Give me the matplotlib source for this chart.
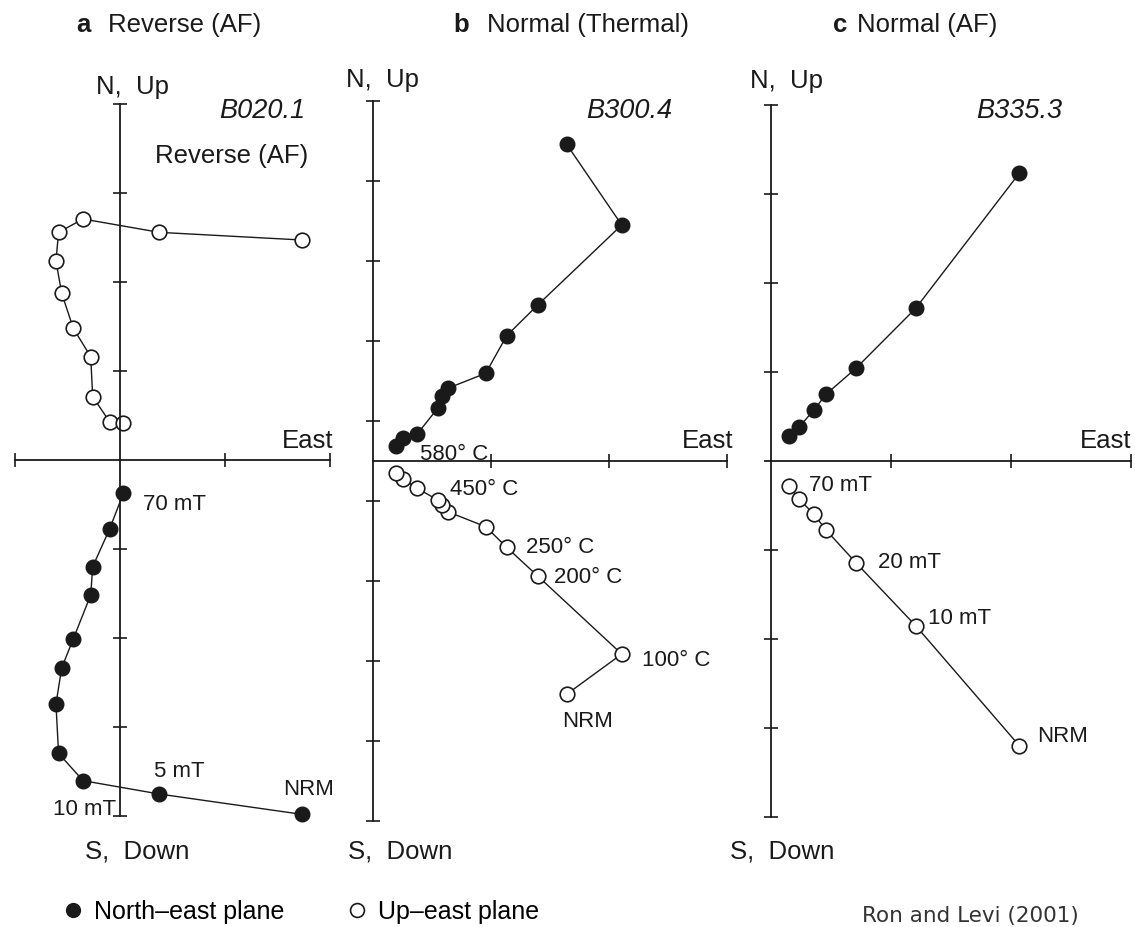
import matplotlib
matplotlib.use("Agg")
import matplotlib.pyplot as plt

plt.rcParams['font.family'] = ['Liberation Sans', 'DejaVu Sans']

W, H = 1135, 927

# ---------------- data (tick units of each panel) ----------------
# a: B020.1, reverse, AF demagnetisation (NRM -> 70 mT)
a_east  = [1.730, 0.374, -0.352, -0.585, -0.610, -0.555, -0.445, -0.279, -0.260, -0.099, 0.032]
a_north = [-3.981, -3.753, -3.603, -3.296, -2.742, -2.334, -2.011, -1.517, -1.199, -0.775, -0.374]
a_up    = [2.472, 2.558, 2.708, 2.558, 2.236, 1.872, 1.480, 1.161, 0.711, 0.430, 0.412]
a_labels = {'70 mT': 10, '5 mT': 1, 'NRM': 0, '10 mT': 2}

# b: B300.4, normal, thermal demagnetisation (NRM -> 580 C)
b_east  = [1.641, 2.108, 1.396, 1.133, 0.955, 0.633, 0.587, 0.548, 0.375, 0.257, 0.195]
b_north = [3.959, 2.950, 1.950, 1.566, 1.096, 0.909, 0.813, 0.659, 0.338, 0.291, 0.188]
b_up    = [-2.916, -2.413, -1.438, -1.079, -0.821, -0.634, -0.550, -0.488, -0.341, -0.229, -0.154]
b_labels_north = {'580° C': 10}
b_labels_up = {'450° C': 8, '250° C': 3, '200° C': 2, '100° C': 1, 'NRM': 0}

# c: B335.3, normal, AF demagnetisation (NRM -> 70 mT)
c_east  = [2.069, 1.206, 0.708, 0.458, 0.358, 0.236, 0.153]
c_north = [3.233, 1.716, 1.042, 0.749, 0.573, 0.385, 0.281]
c_up    = [-3.199, -1.851, -1.143, -0.775, -0.599, -0.430, -0.281]
c_labels = {'70 mT': 6, '20 mT': 2, '10 mT': 1, 'NRM': 0}

panel_letters = ['a', 'b', 'c']
panel_titles = ['Reverse (AF)', 'Normal (Thermal)', 'Normal (AF)']
sample_names = ['B020.1', 'B300.4', 'B335.3']

INK = '#1a1a1a'
LBL = 16
BIG = 18.5

fig = plt.figure(figsize=(W / 100, H / 100), dpi=100)
fig.patch.set_facecolor('white')


def px(x, y):
    return x / W, 1 - y / H


def make_axes(box, origin, unit):
    l, t, r, b = box
    ax = fig.add_axes([l / W, 1 - b / H, (r - l) / W, (b - t) / H])
    ox, oy = origin
    ux, uy = unit
    ax.set_xlim((l - ox) / ux, (r - ox) / ux)
    ax.set_ylim((oy - b) / uy, (oy - t) / uy)
    ax.patch.set_alpha(0)
    for s in ['top', 'right']:
        ax.spines[s].set_visible(False)
    for s in ['left', 'bottom']:
        ax.spines[s].set_position(('data', 0))
        ax.spines[s].set_linewidth(1.3)
        ax.spines[s].set_color(INK)
    ax.tick_params(direction='inout', length=10, width=1.2, color=INK,
                   labelleft=False, labelbottom=False)
    return ax


def draw_series(ax, east, north, up):
    ln_n, = ax.plot(east, north, '-o', color=INK, lw=1.0, ms=10.5,
                    mfc=INK, mec=INK, clip_on=False)
    ln_u, = ax.plot(east, up, '-o', color=INK, lw=1.0, ms=10.5,
                    mfc='white', mec=INK, mew=1.2, clip_on=False)
    return ln_n, ln_u


def label(ax, text, x, y, off, ha='left'):
    ax.annotate(text, (x, y), xytext=off, textcoords='offset pixels',
                ha=ha, va='baseline', fontsize=LBL, color=INK)


# ---------------- panel a ----------------
ax = make_axes((5, 95, 345, 830), (120, 460), (105, 89))
ax.spines['left'].set_bounds(-4, 4)
ax.spines['bottom'].set_bounds(-1, 2)
ax.set_yticks([-4, -3, -2, -1, 1, 2, 3, 4])
ax.set_xticks([-1, 1, 2])
h_north, h_up = draw_series(ax, a_east, a_north, a_up)
offs = {'70 mT': (20, -17), '5 mT': (-5, 17), 'NRM': (-19, 19), '10 mT': (-30, -34)}
for t, i in a_labels.items():
    label(ax, t, a_east[i], a_north[i], offs[t])

# ---------------- panel b ----------------
ax = make_axes((350, 95, 745, 830), (373, 461), (118, 80))
ax.spines['left'].set_bounds(-4.5, 4.5)
ax.spines['bottom'].set_bounds(0, 3)
ax.set_yticks([-4.5, -3.5, -2.5, -1.5, -0.5, 0.5, 1.5, 2.5, 3.5, 4.5])
ax.set_xticks([1, 2, 3])
draw_series(ax, b_east, b_north, b_up)
for t, i in b_labels_north.items():
    label(ax, t, b_east[i], b_north[i], (24, -14))
offs = {'450° C': (33, -7), '250° C': (19, -6), '200° C': (16, -7),
        '100° C': (20, -12), 'NRM': (21, -33)}
for t, i in b_labels_up.items():
    label(ax, t, b_east[i], b_up[i], offs[t], ha='center' if t == 'NRM' else 'left')

# ---------------- panel c ----------------
ax = make_axes((750, 95, 1135, 830), (771, 461), (120, 89))
ax.spines['left'].set_bounds(-4, 4)
ax.spines['bottom'].set_bounds(-0.05, 3)
ax.set_yticks([-4, -3, -2, -1, 1, 2, 3, 4])
ax.set_xticks([1, 2, 3])
draw_series(ax, c_east, c_north, c_up)
offs = {'70 mT': (20, -5), '20 mT': (22, -5), '10 mT': (12, 2), 'NRM': (18, 4)}
for t, i in c_labels.items():
    label(ax, t, c_east[i], c_up[i], offs[t])

# ---------------- headers and axis names ----------------
letter_x = [76, 453, 833]
title_x = [108, 487, 857]
name_right = [305, 672, 1062]
up_x = [133, 383, 787]
up_y = [94, 87, 88]
east_right = [333, 733, 1131]
down_x = [137, 400, 782]
for k in range(3):
    fig.text(*px(letter_x[k], 32), panel_letters[k], fontsize=BIG,
             fontweight='bold', color=INK, va='baseline')
    fig.text(*px(title_x[k], 32), panel_titles[k], fontsize=BIG,
             color=INK, va='baseline')
    fig.text(*px(name_right[k], 118), sample_names[k], fontsize=BIG + 1,
             style='italic', color=INK, ha='right', va='baseline')
    fig.text(*px(up_x[k], up_y[k]), 'N,  Up', fontsize=BIG, color=INK,
             ha='center', va='baseline')
    fig.text(*px(east_right[k], 448), 'East', fontsize=BIG, color=INK,
             ha='right', va='baseline')
    fig.text(*px(down_x[k], 858), 'S,  Down', fontsize=BIG, color=INK,
             ha='center', va='baseline')

fig.text(*px(308, 163), 'Reverse (AF)', fontsize=BIG, color=INK,
         ha='right', va='baseline')

# ---------------- legend and source ----------------
fig.legend([h_north, h_up], ['North\u2013east plane', 'Up\u2013east plane'],
           loc='lower left', bbox_to_anchor=(45 / W, -14 / H), frameon=False,
           ncol=2, fontsize=18, handlelength=0.8, handletextpad=0.45,
           columnspacing=2.5, borderpad=0.2, markerscale=0.95)
for hl in fig.legends[0].legend_handles:
    hl.set_linestyle('none')

fig.text(*px(970, 922), 'Ron and Levi (2001)', fontsize=15.5,
         family='DejaVu Sans', color='#333333', ha='center', va='baseline')

fig.savefig('out.png', dpi=100, facecolor='white')
